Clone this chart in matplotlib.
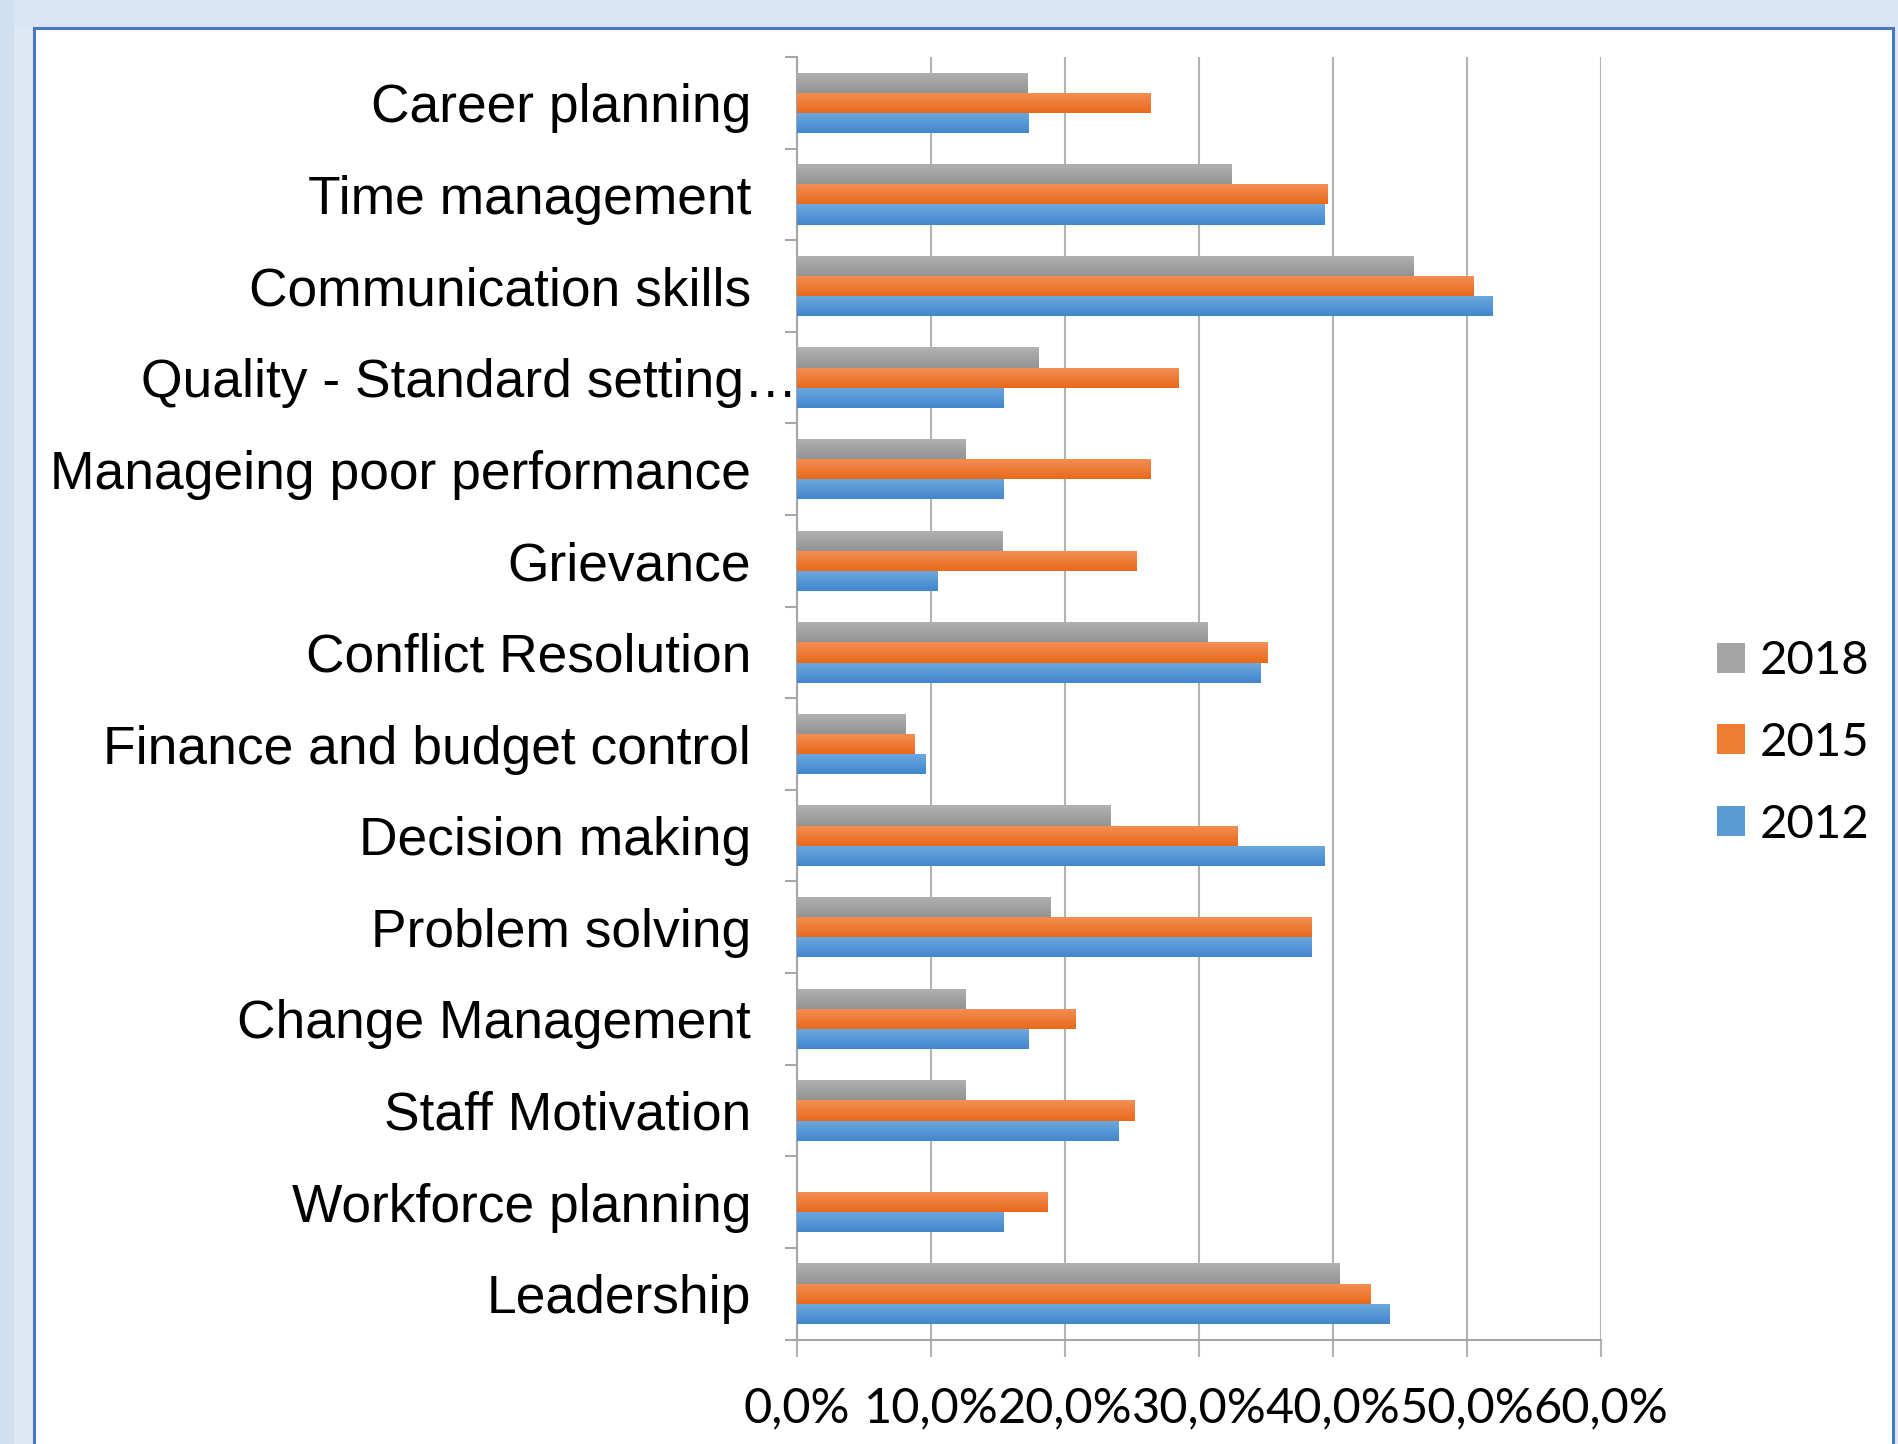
import numpy as np
import matplotlib
matplotlib.use("Agg")
import matplotlib.pyplot as plt
from matplotlib.patches import Rectangle, Patch
from matplotlib.ticker import FuncFormatter, FixedLocator
from matplotlib.colors import to_rgb
from matplotlib.transforms import ScaledTranslation

categories = ["Career planning", "Time management", "Communication skills",
              "Quality - Standard setting\u2026", "Manageing poor performance",
              "Grievance", "Conflict Resolution", "Finance and budget control",
              "Decision making", "Problem solving", "Change Management",
              "Staff Motivation", "Workforce planning", "Leadership"]

v2018 = [17.2, 32.4, 46.0, 18.0, 12.6, 15.3, 30.6, 8.1, 23.4, 18.9, 12.6, 12.6, 0.0, 40.5]
v2015 = [26.4, 39.6, 50.5, 28.5, 26.4, 25.3, 35.1, 8.8, 32.9, 38.4, 20.8, 25.2, 18.7, 42.8]
v2012 = [17.3, 39.4, 51.9, 15.4, 15.4, 10.5, 34.6, 9.6, 39.4, 38.4, 17.3, 24.0, 15.4, 44.2]

series_names = ["2018", "2015", "2012"]
xticks = [0, 10, 20, 30, 40, 50, 60]

colors = {"2018": ("#b2b2b2", "#939393", "#a5a5a5"),
          "2015": ("#f39055", "#e8691b", "#ed7d31"),
          "2012": ("#6ea8e0", "#4187cc", "#5b9bd5")}

W, H = 1899, 1444
fig = plt.figure(figsize=(W / 100, H / 100), dpi=100)
fig.patch.set_facecolor("#dde8f4")

fig.add_artist(Rectangle((0, 1 - 27 / H), 1, 27 / H, transform=fig.transFigure,
                         facecolor="#dae6f3", edgecolor="none", zorder=0))
fig.add_artist(Rectangle((0, 0), 14 / W, 1, transform=fig.transFigure,
                         facecolor="#d0e0f1", edgecolor="none", zorder=0))
fig.add_artist(Rectangle((34 / W, -0.02), (1893 - 34) / W, 1.02 - 28 / H,
                         transform=fig.transFigure, facecolor="white",
                         edgecolor="#4a78c8", linewidth=2.2, zorder=0.5))

ax = fig.add_axes([797 / W, 1 - 1339.5 / H, (1601 - 797) / W, (1339.5 - 57) / H])
ax.set_facecolor("none")
ax.set_zorder(2)

n = len(categories)
y = np.arange(n)
h = 0.22
data = {"2018": v2018, "2015": v2015, "2012": v2012}
offsets = {"2018": -h, "2015": 0.0, "2012": h}

for name in series_names:
    top, bottom, mid = colors[name]
    bars = ax.barh(y + offsets[name], data[name], height=h, color=mid,
                   edgecolor="none", zorder=3)
    grad = np.linspace(0, 1, 64)[:, None, None]
    c0 = np.array(to_rgb(top))[None, None, :]
    c1 = np.array(to_rgb(bottom))[None, None, :]
    img = c0 * (1 - grad) + c1 * grad
    for p in bars.patches:
        wdt = p.get_width()
        if wdt <= 0:
            continue
        yb = p.get_y()
        ht = p.get_height()
        im = ax.imshow(img, extent=[0, wdt, yb + ht, yb], origin="upper",
                       aspect="auto", zorder=4, interpolation="bilinear")
        im.set_clip_path(p)

ax.set_xlim(0, 60)
ax.set_ylim(n - 0.5, -0.5)

ax.set_xticks(xticks)
ax.xaxis.set_major_formatter(FuncFormatter(lambda v, pos: f"{v:.1f}%".replace(".", ",")))
ax.set_yticks(y)
ax.set_yticklabels(categories)
ax.yaxis.set_minor_locator(FixedLocator(np.arange(-0.5, n, 1.0)))

ax.tick_params(axis="y", which="major", length=0, pad=33)
ax.tick_params(axis="y", which="minor", length=9, width=1.5, color="#a6a6a6", direction="out")
ax.tick_params(axis="x", which="major", length=12, width=1.5, color="#b3b3b3",
               direction="out", pad=22)

for lab in ax.get_yticklabels():
    lab.set_fontfamily("Liberation Sans")
    lab.set_fontsize(38.4)
    lab.set_color("black")
    if lab.get_text().startswith("Quality"):
        lab.set_transform(lab.get_transform() + ScaledTranslation(46 / 100, 0, fig.dpi_scale_trans))
for lab in ax.get_xticklabels():
    lab.set_fontfamily("Lato")
    lab.set_fontsize(35)
    lab.set_color("black")

ax.xaxis.grid(True, color="#b3b3b3", linewidth=1.5, zorder=1)
ax.set_axisbelow(True)
for s in ["top", "right"]:
    ax.spines[s].set_visible(False)
ax.spines["left"].set_color("#a6a6a6")
ax.spines["left"].set_linewidth(1.5)
ax.spines["bottom"].set_color("#a6a6a6")
ax.spines["bottom"].set_linewidth(1.5)

handles = [Patch(facecolor=colors[nm][2], edgecolor="none") for nm in series_names]
leg = fig.legend(handles, series_names, loc="center left",
                 bbox_to_anchor=(1717 / W, 1 - 743 / H), frameon=False,
                 prop={"family": "Lato", "size": 34}, handlelength=0.6,
                 handleheight=0.6, handletextpad=0.3, labelspacing=0.84,
                 borderpad=0, borderaxespad=0)

fig.savefig("out.png", dpi=100, facecolor=fig.get_facecolor())
